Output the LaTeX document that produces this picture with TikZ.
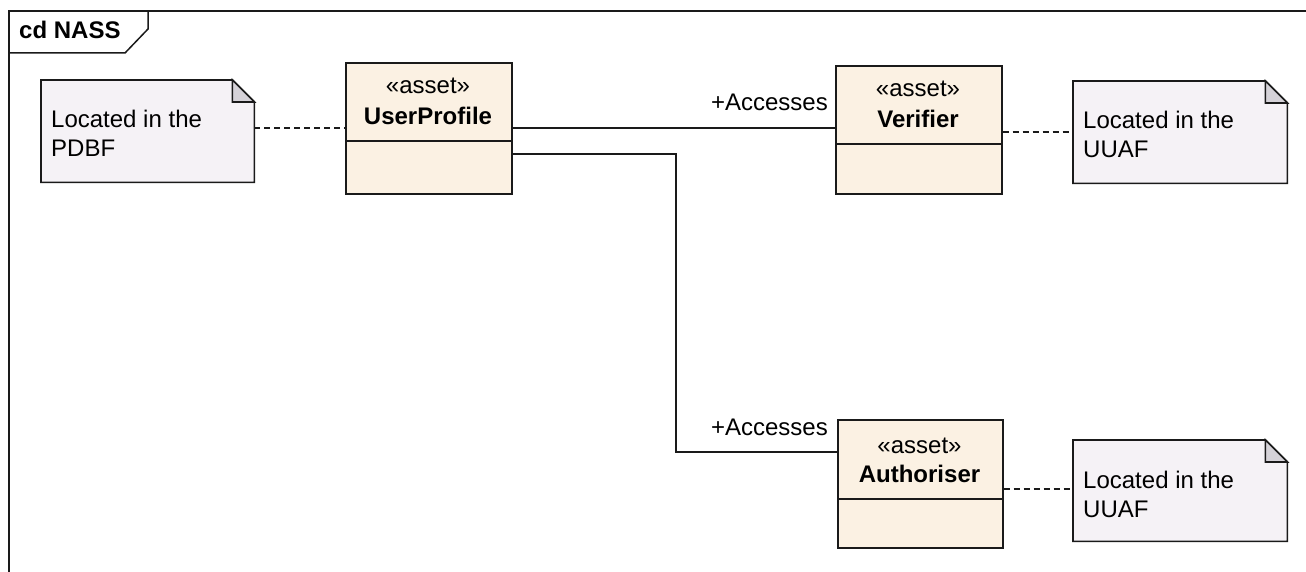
\documentclass[tikz,border=0pt]{standalone}
\usepackage{fontspec}
\setmainfont{Liberation Sans}
\usetikzlibrary{calc}
\definecolor{boxfill}{HTML}{FBF1E3}
\definecolor{notefill}{HTML}{F5F2F6}
\definecolor{foldfill}{HTML}{D5D2D8}
\definecolor{ink}{HTML}{1A1A1A}
\tikzset{
  classbox/.style={draw=ink, line width=1.6pt, fill=boxfill, minimum width=166pt, minimum height=128pt, anchor=north west, inner sep=0pt},
  notearea/.style={minimum width=214pt, minimum height=102pt, anchor=north west, inner sep=0pt},
  noteline/.style={draw=ink, line width=1.6pt, fill=notefill},
  foldline/.style={draw=ink, line width=1.6pt, fill=foldfill, line join=miter},
  txt/.style={font=\fontsize{24}{29}\selectfont, inner sep=0pt, anchor=base west},
  ctxt/.style={font=\fontsize{24}{29}\selectfont, inner sep=0pt, anchor=base},
  btxt/.style={font=\bfseries\fontsize{24}{29}\selectfont, inner sep=0pt, anchor=base},
  assoc/.style={draw=ink, line width=1.5pt},
  anchorline/.style={draw=ink, line width=1.5pt, dash pattern=on 6pt off 4pt},
  divider/.style={draw=ink, line width=1.6pt},
  frameline/.style={draw=ink, line width=1.5pt},
}
\newcommand{\drawnote}[1]{%
  \path[noteline] (#1.north west) -- ([xshift=-22pt]#1.north east) -- ([yshift=-22pt]#1.north east) -- (#1.south east) -- (#1.south west) -- cycle;
  \path[foldline] ([xshift=-22pt]#1.north east) -- ([xshift=-22pt,yshift=-22pt]#1.north east) -- ([yshift=-22pt]#1.north east) -- cycle;
}
\begin{document}
\begin{tikzpicture}[x=1pt,y=-1pt]
\useasboundingbox (0,0) rectangle (1306,572);
\clip (0,0) rectangle (1306,572);
\fill[white] (0,0) rectangle (1306,572);
% frame
\path[frameline] (9,11) rectangle (1340,600);
\path[frameline] (9,53) -- (125,53) -- (148,29) -- (148,11);
\node[btxt, anchor=base west] (title) at (19,39) {cd NASS};

% notes
\node[notearea, minimum width=213pt] (n1) at (41,80) {};
\node[notearea] (n2) at (1073,81) {};
\node[notearea, minimum height=101pt] (n3) at (1073,440) {};
\drawnote{n1}
\drawnote{n2}
\drawnote{n3}
\node[txt] (n1a) at (51,128) {Located in the};
\node[txt] (n1b) at (51,157) {PDBF};
\node[txt] (n2a) at (1083,129) {Located in the};
\node[txt] (n2b) at (1083,158) {UUAF};
\node[txt] (n3a) at (1083,488) {Located in the};
\node[txt] (n3b) at (1083,517) {UUAF};

% classes
\node[classbox, minimum height=131pt] (up) at (345,62) {};
\node[classbox] (ver) at (835,65) {};
\node[classbox, minimum width=165pt] (aut) at (837,419) {};
\path[divider] (up.west |- 0,141) -- (up.east |- 0,141);
\path[divider] (ver.west |- 0,144) -- (ver.east |- 0,144);
\path[divider] (aut.west |- 0,499) -- (aut.east |- 0,499);
\node[ctxt] (upst) at (428,94) {«asset»};
\node[btxt] (upnm) at (428,125) {UserProfile};
\node[ctxt] (verst) at (918,97) {«asset»};
\node[btxt] (vernm) at (918,128) {Verifier};
\node[ctxt] (autst) at (919.5,453) {«asset»};
\node[btxt] (autnm) at (919.5,482) {Authoriser};

% connectors
\path[assoc] (up.east |- 0,128) -- (ver.west |- 0,128);
\coordinate (bend) at (676,452);
\path[assoc] (up.east |- 0,154) -| (bend) -- (aut.west |- bend);
\node[txt, anchor=base east] (acc1) at (828,111) {+Accesses};
\node[txt, anchor=base east] (acc2) at (828,435) {+Accesses};

\path[anchorline] (n1.east |- 0,128) -- (up.west |- 0,128);
\path[anchorline] (ver.east |- 0,132) -- (n2.west |- 0,132);
\path[anchorline] (aut.east |- 0,489) -- (n3.west |- 0,489);
\end{tikzpicture}
\end{document}
